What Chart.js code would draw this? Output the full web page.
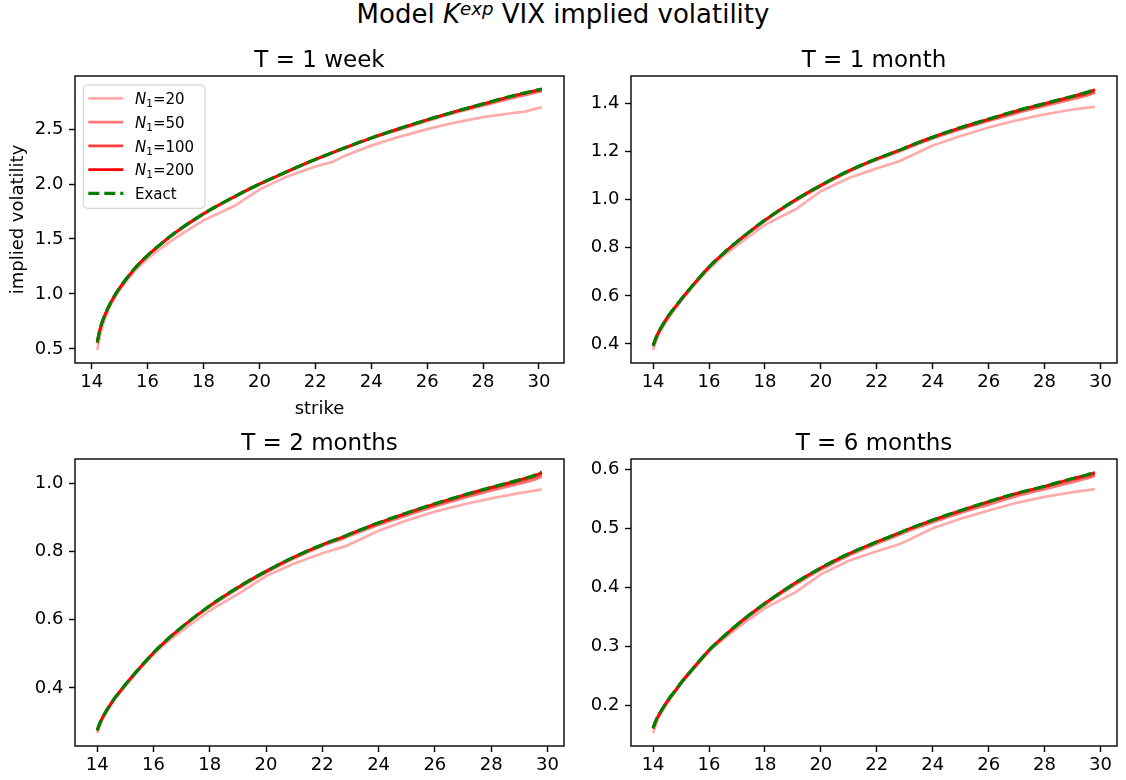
<!DOCTYPE html>
<html>
<head>
<meta charset="utf-8">
<script src="https://cdn.jsdelivr.net/npm/chart.js@4.4.1/dist/chart.umd.min.js"></script>
<style>
  body { margin: 0; background: #fff; width: 1126px; height: 780px; position: relative; overflow: hidden; font-family: "DejaVu Sans"; }
  #suptitle { position: absolute; left: 0; top: -1px; width: 1126px; text-align: center; font-size: 26px; line-height: 30px; color: #000; }
  #suptitle sup { font-size: 0.7em; vertical-align: 0.45em; line-height: 0; }
  canvas { position: absolute; }
</style>
</head>
<body>
<div id="suptitle">Model <i>K</i><sup><i>exp</i></sup> VIX implied volatility</div>
<canvas id="week" width="569" height="387" style="left:0px;top:36px"></canvas>
<canvas id="month" width="566" height="367" style="left:556px;top:36px"></canvas>
<canvas id="twoMonth" width="569" height="367" style="left:0px;top:419px"></canvas>
<canvas id="sixMonth" width="566" height="367" style="left:556px;top:419px"></canvas>
<script>
// strikes: the 1 week smile starts a little higher than the others
const strikesWeek = [14.2, 14.3, 14.4, 14.6, 14.8, 15.0, 15.5, 16.0, 16.5, 17.0, 18.0, 19.1, 20.0, 21.0, 22.0, 22.6, 23.0, 24.0, 25.0, 26.0, 27.0, 28.0, 29.0, 29.5, 30.1];
const strikesLong = [14.0, 14.1, 14.2, 14.4, 14.6, 14.8, 15.0, 15.5, 16.0, 16.5, 17.0, 18.0, 19.1, 20.0, 21.0, 22.0, 22.8, 23.0, 24.0, 25.0, 26.0, 27.0, 28.0, 29.0, 29.5, 29.8];
const strikeTicks = [14, 16, 18, 20, 22, 24, 26, 28, 30];

// T = 1 week
const weekN20 = [0.49, 0.62, 0.72, 0.86, 0.955, 1.035, 1.20, 1.32, 1.42, 1.51, 1.67, 1.80, 1.95, 2.07, 2.16, 2.20, 2.25, 2.35, 2.43, 2.50, 2.56, 2.61, 2.645, 2.66, 2.70];
const weekN50 = [0.55, 0.675, 0.755, 0.875, 0.97, 1.05, 1.215, 1.345, 1.455, 1.555, 1.725, 1.88, 1.995, 2.11, 2.22, 2.28, 2.32, 2.415, 2.495, 2.575, 2.65, 2.715, 2.78, 2.81, 2.845];
const weekN100 = [0.56, 0.68, 0.76, 0.88, 0.975, 1.055, 1.22, 1.35, 1.46, 1.56, 1.73, 1.885, 2.00, 2.115, 2.225, 2.285, 2.325, 2.42, 2.505, 2.585, 2.66, 2.727, 2.795, 2.825, 2.858];
const weekN200 = [0.56, 0.68, 0.76, 0.88, 0.975, 1.055, 1.22, 1.35, 1.46, 1.56, 1.73, 1.885, 2.00, 2.115, 2.225, 2.285, 2.325, 2.42, 2.505, 2.585, 2.66, 2.73, 2.80, 2.83, 2.865];
const weekExact = [0.56, 0.68, 0.76, 0.88, 0.975, 1.055, 1.22, 1.35, 1.46, 1.56, 1.73, 1.885, 2.00, 2.115, 2.225, 2.285, 2.325, 2.42, 2.505, 2.585, 2.66, 2.73, 2.80, 2.83, 2.865];
const weekTicks = [0.5, 1.0, 1.5, 2.0, 2.5];

// T = 1 month
const monthN20 = [0.375, 0.41, 0.44, 0.48, 0.515, 0.548, 0.578, 0.648, 0.712, 0.765, 0.81, 0.895, 0.96, 1.035, 1.09, 1.13, 1.16, 1.17, 1.225, 1.265, 1.30, 1.33, 1.355, 1.375, 1.382, 1.386];
const monthN50 = [0.39, 0.42, 0.448, 0.489, 0.524, 0.554, 0.584, 0.654, 0.719, 0.773, 0.822, 0.912, 0.995, 1.056, 1.116, 1.166, 1.20, 1.21, 1.254, 1.293, 1.327, 1.36, 1.39, 1.418, 1.432, 1.445];
const monthN100 = [0.393, 0.425, 0.45, 0.49, 0.525, 0.555, 0.585, 0.655, 0.72, 0.775, 0.825, 0.915, 1.00, 1.06, 1.12, 1.17, 1.205, 1.215, 1.26, 1.297, 1.332, 1.366, 1.396, 1.426, 1.44, 1.452];
const monthN200 = [0.393, 0.425, 0.45, 0.49, 0.525, 0.555, 0.585, 0.655, 0.72, 0.775, 0.825, 0.915, 1.00, 1.06, 1.12, 1.17, 1.205, 1.215, 1.26, 1.30, 1.335, 1.37, 1.40, 1.43, 1.446, 1.458];
const monthExact = [0.393, 0.425, 0.45, 0.49, 0.525, 0.555, 0.585, 0.655, 0.72, 0.775, 0.825, 0.915, 1.00, 1.06, 1.12, 1.17, 1.205, 1.215, 1.26, 1.30, 1.335, 1.37, 1.40, 1.43, 1.446, 1.46];
const monthTicks = [0.4, 0.6, 0.8, 1.0, 1.2, 1.4];

// T = 2 months
const twoMonthN20 = [0.268, 0.29, 0.31, 0.338, 0.364, 0.385, 0.405, 0.454, 0.498, 0.536, 0.567, 0.627, 0.68, 0.728, 0.765, 0.795, 0.815, 0.822, 0.861, 0.891, 0.917, 0.938, 0.956, 0.971, 0.978, 0.982];
const twoMonthN50 = [0.274, 0.296, 0.314, 0.342, 0.367, 0.388, 0.409, 0.457, 0.502, 0.541, 0.576, 0.638, 0.696, 0.738, 0.78, 0.816, 0.84, 0.847, 0.878, 0.906, 0.932, 0.956, 0.978, 0.999, 1.01, 1.02];
const twoMonthN100 = [0.276, 0.298, 0.315, 0.343, 0.368, 0.389, 0.41, 0.458, 0.503, 0.543, 0.578, 0.641, 0.70, 0.742, 0.784, 0.82, 0.845, 0.852, 0.883, 0.911, 0.938, 0.962, 0.985, 1.006, 1.018, 1.027];
const twoMonthN200 = [0.276, 0.298, 0.315, 0.343, 0.368, 0.389, 0.41, 0.458, 0.503, 0.543, 0.578, 0.641, 0.70, 0.742, 0.784, 0.82, 0.845, 0.852, 0.884, 0.913, 0.94, 0.965, 0.988, 1.01, 1.022, 1.031];
const twoMonthExact = [0.276, 0.298, 0.315, 0.343, 0.368, 0.389, 0.41, 0.458, 0.503, 0.543, 0.578, 0.641, 0.70, 0.742, 0.784, 0.82, 0.845, 0.852, 0.884, 0.913, 0.94, 0.965, 0.988, 1.01, 1.022, 1.033];
const twoMonthTicks = [0.4, 0.6, 0.8, 1.0];

// T = 6 months
const sixMonthN20 = [0.154, 0.168, 0.18, 0.196, 0.21, 0.224, 0.237, 0.265, 0.292, 0.312, 0.331, 0.365, 0.392, 0.422, 0.445, 0.461, 0.473, 0.477, 0.50, 0.516, 0.530, 0.543, 0.553, 0.561, 0.564, 0.566];
const sixMonthN50 = [0.161, 0.174, 0.183, 0.199, 0.213, 0.225, 0.238, 0.266, 0.293, 0.315, 0.335, 0.371, 0.405, 0.43, 0.454, 0.474, 0.489, 0.493, 0.51, 0.526, 0.54, 0.554, 0.566, 0.578, 0.584, 0.589];
const sixMonthN100 = [0.162, 0.175, 0.184, 0.2, 0.214, 0.226, 0.239, 0.267, 0.294, 0.316, 0.337, 0.373, 0.408, 0.433, 0.457, 0.477, 0.492, 0.496, 0.513, 0.529, 0.544, 0.558, 0.570, 0.582, 0.588, 0.592];
const sixMonthN200 = [0.162, 0.175, 0.184, 0.2, 0.214, 0.226, 0.239, 0.267, 0.294, 0.316, 0.337, 0.373, 0.408, 0.433, 0.457, 0.477, 0.492, 0.496, 0.514, 0.530, 0.545, 0.559, 0.571, 0.584, 0.590, 0.594];
const sixMonthExact = [0.162, 0.175, 0.184, 0.2, 0.214, 0.226, 0.239, 0.267, 0.294, 0.316, 0.337, 0.373, 0.408, 0.433, 0.457, 0.477, 0.492, 0.496, 0.514, 0.530, 0.545, 0.559, 0.571, 0.584, 0.590, 0.595];
const sixMonthTicks = [0.2, 0.3, 0.4, 0.5, 0.6];

const FONT = '"DejaVu Sans"';
Chart.defaults.font.family = FONT;
Chart.defaults.color = '#000';

// matplotlib-style autoscale: data range plus 5% on each side
function limits(arrays) {
  const all = [].concat(...arrays);
  const lo = Math.min(...all), hi = Math.max(...all);
  const pad = (hi - lo) * 0.05;
  return [lo - pad, hi + pad];
}

function points(xs, ys) {
  return xs.map((x, i) => ({ x: x, y: ys[i] }));
}

// black box round the plot area
const framePlugin = {
  id: 'frame',
  afterDraw(chart) {
    const { ctx, chartArea: a } = chart;
    ctx.save();
    ctx.strokeStyle = '#000';
    ctx.lineWidth = 1.4;
    ctx.strokeRect(a.left, a.top, a.right - a.left, a.bottom - a.top);
    ctx.restore();
  }
};

// legend inside the upper left corner of the plot
const insetLegend = {
  id: 'insetLegend',
  afterDraw(chart) {
    if (!chart.options.plugins.insetLegend.display) return;
    const ctx = chart.ctx;
    const a = chart.chartArea;
    const x0 = a.left + 8.3, y0 = a.top + 9, w = 121.7, h = 123.3;
    ctx.save();
    ctx.beginPath();
    if (ctx.roundRect) ctx.roundRect(x0, y0, w, h, 4); else ctx.rect(x0, y0, w, h);
    ctx.fillStyle = 'rgba(255,255,255,0.8)';
    ctx.fill();
    ctx.strokeStyle = '#cccccc';
    ctx.lineWidth = 1;
    ctx.stroke();
    chart.data.datasets.forEach((ds, i) => {
      const cy = y0 + 13.3 + i * 23.75;
      ctx.beginPath();
      ctx.setLineDash(ds.borderDash || []);
      ctx.strokeStyle = ds.borderColor;
      ctx.lineWidth = ds.borderWidth;
      ctx.moveTo(x0 + 5, cy);
      ctx.lineTo(x0 + 40, cy);
      ctx.stroke();
      ctx.setLineDash([]);
      let x = x0 + 51.7;
      const base = cy + 5.7;
      ctx.fillStyle = '#000';
      ctx.textBaseline = 'alphabetic';
      if (ds.n1 === undefined) {
        ctx.font = '15px ' + FONT;
        ctx.fillText(ds.label, x, base);
        return;
      }
      ctx.font = 'italic 15px ' + FONT;
      ctx.fillText('N', x, base);
      x += ctx.measureText('N').width;
      ctx.font = '10.5px ' + FONT;
      ctx.fillText('1', x, base + 3);
      x += ctx.measureText('1').width;
      ctx.font = '15px ' + FONT;
      ctx.fillText('=' + ds.n1, x, base);
    });
    ctx.restore();
  }
};

function panel(id, title, strikes, n20, n50, n100, n200, exact, yTicks, opts) {
  const lines = [
    { n1: 20, values: n20, color: 'rgba(255,0,0,0.33)', order: 4, tension: 0 },
    { n1: 50, values: n50, color: 'rgba(255,0,0,0.53)', order: 3 },
    { n1: 100, values: n100, color: 'rgba(255,0,0,0.76)', order: 2 },
    { n1: 200, values: n200, color: 'rgba(255,0,0,1)', order: 1 }
  ];
  const datasets = lines.map(l => ({
    label: 'N1=' + l.n1,
    n1: l.n1,
    data: points(strikes, l.values),
    borderColor: l.color,
    borderWidth: 2.7,
    pointRadius: 0,
    order: l.order,
    cubicInterpolationMode: l.tension === 0 ? 'default' : 'monotone',
    tension: 0
  }));
  datasets.push({
    label: 'Exact',
    data: points(strikes, exact),
    borderColor: '#008000',
    borderWidth: 3.2,
    borderDash: [11, 5],
    pointRadius: 0,
    order: 0,
    cubicInterpolationMode: 'monotone'
  });

  const xr = limits([strikes]);
  const yr = limits([n20, n50, n100, n200, exact]);
  const tickGrid = { drawOnChartArea: false, drawTicks: true, tickLength: 6, tickWidth: 1.4, tickColor: '#000' };

  new Chart(document.getElementById(id), {
    type: 'line',
    data: { datasets: datasets },
    options: {
      responsive: false,
      animation: false,
      devicePixelRatio: 1,
      events: [],
      layout: { padding: { left: 0, right: 5, top: 0, bottom: 0 } },
      scales: {
        x: {
          type: 'linear',
          min: xr[0],
          max: xr[1],
          afterBuildTicks: s => { s.ticks = strikeTicks.map(v => ({ value: v })); },
          afterFit: s => { s.height = opts.xLabel ? 60 : 40; },
          ticks: { font: { size: 18 }, padding: 3, maxRotation: 0, autoSkip: false, color: '#000', callback: v => String(v) },
          grid: tickGrid,
          border: { display: false },
          title: { display: !!opts.xLabel, text: opts.xLabel, font: { size: 18 }, color: '#000', padding: { top: 0, bottom: 2.4 } }
        },
        y: {
          type: 'linear',
          min: yr[0],
          max: yr[1],
          afterBuildTicks: s => { s.ticks = yTicks.map(v => ({ value: v })); },
          afterFit: s => { s.width = 75; },
          ticks: { font: { size: 18 }, padding: 5.5, autoSkip: false, color: '#000', callback: v => v.toFixed(1) },
          grid: tickGrid,
          border: { display: false },
          title: { display: !!opts.yLabel, text: opts.yLabel, font: { size: 18 }, color: '#000', padding: { top: 8, bottom: 0 } }
        }
      },
      plugins: {
        legend: { display: false },
        tooltip: { enabled: false },
        insetLegend: { display: !!opts.legend },
        title: {
          display: true,
          text: title,
          fullSize: false,
          color: '#000',
          font: { size: 23, weight: 'normal' },
          padding: { top: 11.5, bottom: 0.9 }
        }
      }
    },
    plugins: [framePlugin, insetLegend]
  });
}

panel('week', 'T = 1 week', strikesWeek, weekN20, weekN50, weekN100, weekN200, weekExact, weekTicks,
  { xLabel: 'strike', yLabel: 'implied volatility', legend: true });
panel('month', 'T = 1 month', strikesLong, monthN20, monthN50, monthN100, monthN200, monthExact, monthTicks, {});
panel('twoMonth', 'T = 2 months', strikesLong, twoMonthN20, twoMonthN50, twoMonthN100, twoMonthN200, twoMonthExact, twoMonthTicks, {});
panel('sixMonth', 'T = 6 months', strikesLong, sixMonthN20, sixMonthN50, sixMonthN100, sixMonthN200, sixMonthExact, sixMonthTicks, {});
</script>
</body>
</html>
